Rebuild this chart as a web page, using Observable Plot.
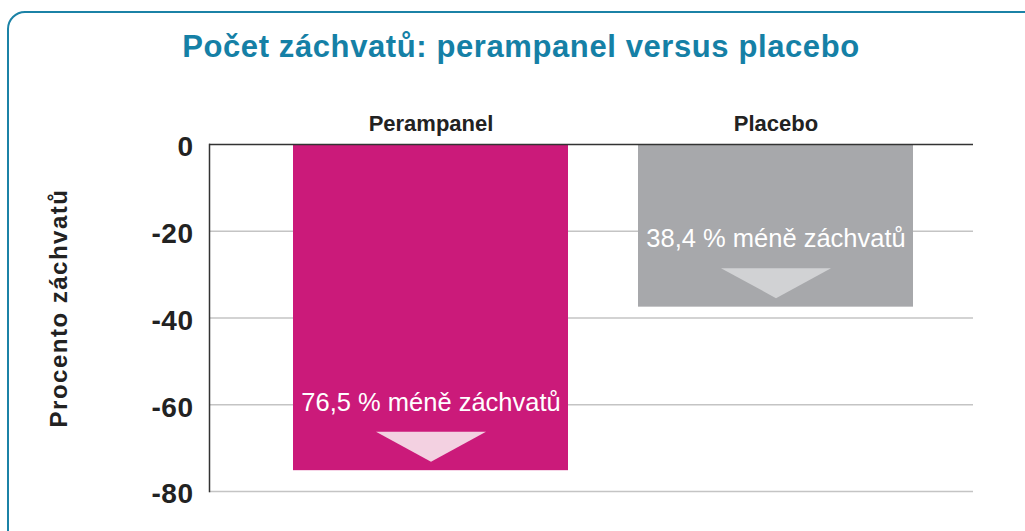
<!DOCTYPE html>
<html>
<head>
<meta charset="utf-8">
<script src="https://cdn.jsdelivr.net/npm/d3@7"></script>
<script src="https://cdn.jsdelivr.net/npm/@observablehq/plot@0.6"></script>
<style>
  html, body { margin: 0; padding: 0; background: #fff; overflow: hidden; width: 1025px; height: 531px; }
  body { position: relative; font-family: "Liberation Sans", Arial, sans-serif; }
  #frame { position: absolute; left: 7px; top: 11px; width: 1100px; height: 600px;
           border: 2px solid #1b82a6; border-radius: 18px; box-sizing: border-box; }
  #title { position: relative; height: 100px; box-sizing: border-box; padding-top: 31px;
           line-height: 31px; font-size: 31px; font-weight: bold; color: #1580a6;
           text-align: center; letter-spacing: 0.6px; padding-left: 17px; white-space: nowrap; }
  #chart { position: relative; }
</style>
</head>
<body>
<div id="frame"></div>
<div id="title">Počet záchvatů: perampanel versus placebo</div>
<div id="chart"></div>
<script>
// Data
const categories = ["Perampanel", "Placebo"];
const values = [-75.2, -37.5];
const barLabels = ["76,5 % méně záchvatů", "38,4 % méně záchvatů"];
const yTicks = [0, -20, -40, -60, -80];
const yTitle = "Procento záchvatů";

// Styles
const barColors = ["#cb1a7a", "#a7a8ab"];
const arrowColors = ["#f3d1e1", "#d1d2d4"];

const data = categories.map((c, i) => ({
  cat: c, value: values[i], label: barLabels[i], color: barColors[i], arrow: arrowColors[i]
}));

// wide downward triangle symbol
const wideTriangle = {
  draw(context) {
    const w = 55, h = 15;
    context.moveTo(-w, -h);
    context.lineTo(w, -h);
    context.lineTo(0, h);
    context.closePath();
  }
};

const plot = Plot.plot({
  width: 1025,
  height: 431,
  marginLeft: 209,
  marginRight: 52,
  marginTop: 44,
  marginBottom: 40,
  style: { background: "transparent", fontFamily: "'Liberation Sans', Arial, sans-serif", color: "#222", overflow: "visible" },
  x: { domain: categories, paddingInner: 0.2036, paddingOuter: 0.207, align: 0.58, label: null },
  y: { domain: [-80, 0], label: null },
  marks: [
    Plot.ruleY(yTicks.filter(d => d !== 0), { stroke: "#c4c4c4", strokeWidth: 1.5 }),
    Plot.barY(data, { x: "cat", y: "value", fill: "color" }),
    Plot.ruleY([0], { stroke: "#333", strokeWidth: 1.5 }),
    Plot.frame({ anchor: "left", stroke: "#333", strokeWidth: 1.5 }),
    Plot.axisX({ anchor: "top", tickSize: 0, tickPadding: 14, fontSize: 22, fontWeight: "bold", label: null, fill: "#222" }),
    Plot.axisY({ ticks: yTicks, tickFormat: d => String(d), tickSize: 0, tickPadding: 16, fontSize: 28, fontWeight: "bold", label: null, dy: 3, fill: "#222" }),
    Plot.text([yTitle], { frameAnchor: "left", textAnchor: "middle", rotate: -90, dx: -150, dy: -10, fontSize: 24, fontWeight: "bold", fill: "#222" }),
    Plot.text(data, { x: "cat", y: "value", text: "label", dy: -68, fill: "#fff", fontSize: 25.5 }),
    Plot.dot(data, { x: "cat", y: "value", dy: -24, symbol: wideTriangle, fill: "arrow", stroke: null, r: 10 })
  ]
});

document.getElementById("chart").appendChild(plot);
const svg = d3.select(plot);
svg.selectAll("text").filter(function() { return this.textContent === yTitle; })
  .style("letter-spacing", "1.5px");
svg.selectAll("text").filter(function() { return yTicks.map(String).includes(this.textContent); })
  .style("letter-spacing", "0.5px");
</script>
</body>
</html>
